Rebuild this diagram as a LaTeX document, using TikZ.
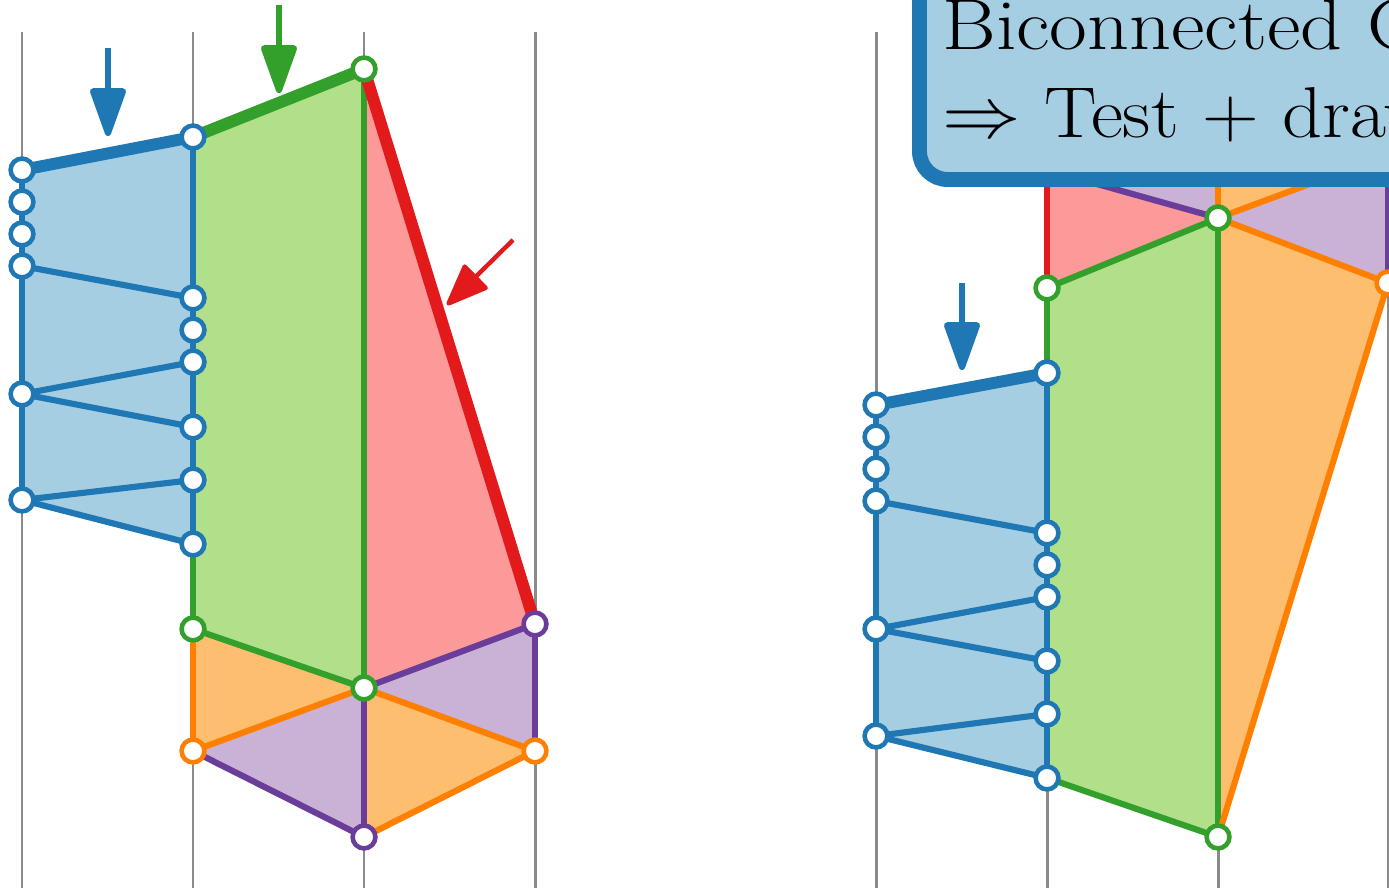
\documentclass[tikz,border=0pt]{standalone}
\usepackage{graphicx}
\usetikzlibrary{arrows.meta}
\definecolor{clblue}{HTML}{A6CEE3}
\definecolor{cblue}{HTML}{1F78B4}
\definecolor{clgreen}{HTML}{B2DF8A}
\definecolor{cgreen}{HTML}{33A02C}
\definecolor{clred}{HTML}{FB9A99}
\definecolor{cred}{HTML}{E31A1C}
\definecolor{clorange}{HTML}{FDBF6F}
\definecolor{corange}{HTML}{FF7F00}
\definecolor{clpurple}{HTML}{CAB2D6}
\definecolor{cpurple}{HTML}{6A3D9A}
\definecolor{cgray}{HTML}{8A8A8A}
\tikzset{
  vx/.style={circle, fill=white, draw=#1, line width=2.6pt, minimum size=13pt, inner sep=0pt},
  gl/.style={draw=cgray, line width=1.7pt},
  ed/.style={line width=3.5pt, line join=round},
  thk/.style={line width=6.8pt, line cap=round},
  arr/.style={line width=3.6pt, -{Triangle[length=31pt, width=21pt, round]}, line join=round},
  arrs/.style={line width=2.5pt, -{Triangle[length=26pt, width=20pt, round]}, line join=round},
  boxtext/.style={anchor=base west, inner sep=0pt, font=\fontsize{41}{49}\selectfont},
}
\begin{document}
\begin{tikzpicture}[x=0.02cm, y=-0.02cm]
\useasboundingbox (0,0) rectangle (1389,891);
\clip (0,0) rectangle (1389,891);
% ---------- left diagram coordinates
\coordinate (a1) at (22,170); \coordinate (a2) at (22,202); \coordinate (a3) at (22,234);
\coordinate (a4) at (22,266); \coordinate (a5) at (22,394); \coordinate (a6) at (22,500);
\coordinate (b1) at (193,137); \coordinate (b2) at (193,298); \coordinate (b3) at (193,330);
\coordinate (b4) at (193,362); \coordinate (b5) at (193,427); \coordinate (b6) at (193,480);
\coordinate (b7) at (193,544); \coordinate (b8) at (193,629); \coordinate (b9) at (193,751);
\coordinate (c1) at (364,69); \coordinate (c2) at (364,688); \coordinate (c3) at (364,837);
\coordinate (d1) at (535,624); \coordinate (d2) at (535,751);
% ---------- right diagram coordinates
\coordinate (p1) at (876,405); \coordinate (p2) at (876,437); \coordinate (p3) at (876,469);
\coordinate (p4) at (876,501); \coordinate (p5) at (876,629); \coordinate (p6) at (876,736);
\coordinate (q0) at (1047,288); \coordinate (q1) at (1047,373); \coordinate (q2) at (1047,533);
\coordinate (q3) at (1047,565); \coordinate (q4) at (1047,597); \coordinate (q5) at (1047,661);
\coordinate (q6) at (1047,714); \coordinate (q7) at (1047,778); \coordinate (qh) at (1047,170);
\coordinate (r1) at (1218,218); \coordinate (r2) at (1218,837); \coordinate (rh) at (1218,60);
\coordinate (s1) at (1388,283); \coordinate (sh) at (1388,155);
% ---------- gray columns
\foreach \x in {22,193,364,535,876,1047,1218,1388}
  \draw[gl] (\x,32) -- (\x,888);
% ---------- left fills
\fill[clblue] (a1) -- (b1) -- (b7) -- (a6) -- cycle;
\fill[clgreen] (b1) -- (c1) -- (c2) -- (b8) -- cycle;
\fill[clred] (c1) -- (d1) -- (c2) -- cycle;
\fill[clorange] (b8) -- (c2) -- (b9) -- cycle;
\fill[clpurple] (c2) -- (d1) -- (d2) -- cycle;
\fill[clpurple] (b9) -- (c2) -- (c3) -- cycle;
\fill[clorange] (c2) -- (d2) -- (c3) -- cycle;
% ---------- right fills
\fill[clblue] (p1) -- (q1) -- (q7) -- (p6) -- cycle;
\fill[clgreen] (q0) -- (r1) -- (r2) -- (q7) -- cycle;
\fill[clorange] (r1) -- (s1) -- (r2) -- cycle;
\fill[clred] (qh) -- (q0) -- (r1) -- cycle;
\fill[clpurple] (qh) -- (r1) -- (rh) -- cycle;
\fill[clorange] (r1) -- (rh) -- (sh) -- cycle;
\fill[clpurple] (r1) -- (sh) -- (s1) -- cycle;
% ---------- left edges
\draw[ed, cblue] (a1) -- (a6);
\draw[ed, cblue] (b1) -- (b7);
\draw[ed, cblue] (a4) -- (b2);
\draw[ed, cblue] (a5) -- (b4);
\draw[ed, cblue] (a5) -- (b5);
\draw[ed, cblue] (a6) -- (b6);
\draw[ed, cblue] (a6) -- (b7);
\draw[ed, cgreen] (b7) -- (b8);
\draw[ed, cgreen] (c1) -- (c2);
\draw[ed, cgreen] (b8) -- (c2);
\draw[ed, corange] (b8) -- (b9);
\draw[ed, corange] (b9) -- (c2);
\draw[ed, corange] (c2) -- (d2);
\draw[ed, corange] (d2) -- (c3);
\draw[ed, cpurple] (c2) -- (d1);
\draw[ed, cpurple] (d1) -- (d2);
\draw[ed, cpurple] (b9) -- (c3);
\draw[ed, cpurple] (c2) -- (c3);
\draw[thk, cblue] (a1) -- (b1);
\draw[thk, cgreen] (b1) -- (c1);
\draw[thk, cred] (c1) -- (d1);
% ---------- right edges
\draw[ed, cblue] (p1) -- (p6);
\draw[ed, cblue] (q1) -- (q7);
\draw[ed, cblue] (p4) -- (q2);
\draw[ed, cblue] (p5) -- (q4);
\draw[ed, cblue] (p5) -- (q5);
\draw[ed, cblue] (p6) -- (q6);
\draw[ed, cblue] (p6) -- (q7);
\draw[ed, cgreen] (q0) -- (q1);
\draw[ed, cgreen] (q0) -- (r1);
\draw[ed, cgreen] (r1) -- (r2);
\draw[ed, cgreen] (q7) -- (r2);
\draw[ed, corange] (r1) -- (s1);
\draw[ed, corange] (s1) -- (r2);
\draw[ed, corange] (r1) -- (rh);
\draw[ed, corange] (r1) -- (sh);
\draw[ed, cred] (qh) -- (q0);
\draw[ed, cpurple] (qh) -- (r1);
\draw[ed, cpurple] (sh) -- (s1);
\draw[thk, cblue] (p1) -- (q1);
% ---------- vertices
\foreach \n in {a1,a2,a3,a4,a5,a6,b1,b2,b3,b4,b5,b6,b7,p1,p2,p3,p4,p5,p6,q1,q2,q3,q4,q5,q6,q7}
  \node[vx=cblue] (n\n) at (\n) {};
\foreach \n in {b8,c1,c2,q0,r1,r2}
  \node[vx=cgreen] (n\n) at (\n) {};
\foreach \n in {b9,d2,s1}
  \node[vx=corange] (n\n) at (\n) {};
\foreach \n in {c3,d1}
  \node[vx=cpurple] (n\n) at (\n) {};
% ---------- arrows
\coordinate (ab0) at (108,48); \coordinate (ab1) at (108,136);
\coordinate (ag0) at (279,5); \coordinate (ag1) at (279,93);
\coordinate (ar0) at (513,240); \coordinate (ar1) at (447,305);
\coordinate (aq0) at (962,283); \coordinate (aq1) at (962,370);
\draw[arr, cblue] (ab0) -- (ab1);
\draw[arr, cgreen] (ag0) -- (ag1);
\draw[arrs, cred] (ar0) -- (ar1);
\draw[arr, cblue] (aq0) -- (aq1);
% ---------- box
\draw[line width=8.5pt, draw=cblue, fill=clblue, rounded corners=16pt] (919.5,-60) rectangle (1480,179.5);
\node[boxtext] (t1) at (942,50) {\scalebox{1.14}[1]{Biconnected Components}};
\node[boxtext] (t2) at (942,138) {\scalebox{1.09}[1]{\scalebox{1.65}{$\Rightarrow$} Test + drawing}};
\end{tikzpicture}
\end{document}
